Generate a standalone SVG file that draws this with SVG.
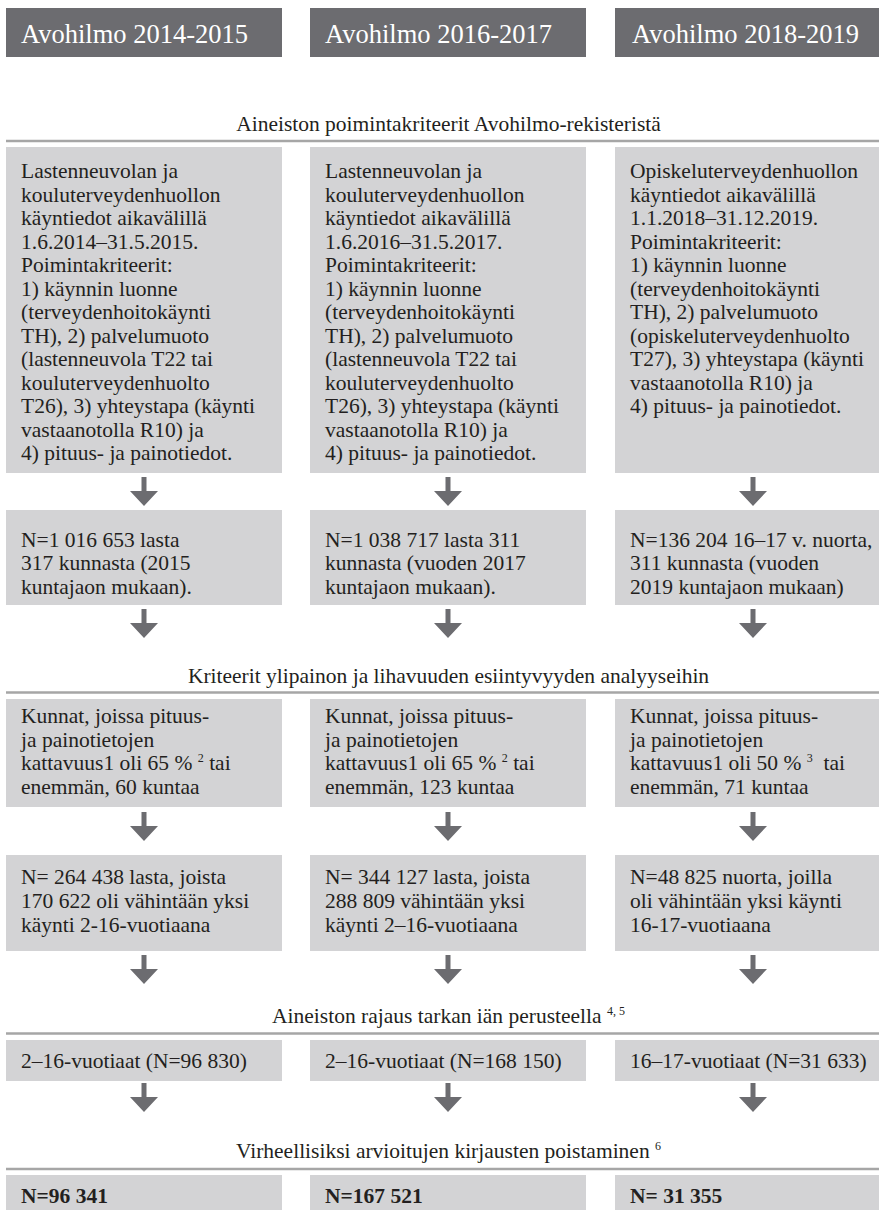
<svg xmlns="http://www.w3.org/2000/svg" xmlns:xlink="http://www.w3.org/1999/xlink" width="879" height="1210" viewBox="0 0 879 1210">
<defs>
<style>
.hdr{fill:#6c6c70}
.box{fill:#d3d3d5}
.hdrt{font-family:"Liberation Serif",serif;font-size:26.5px;fill:#ffffff}
.t{font-family:"Liberation Serif",serif;font-size:21.5px;fill:#231f20}
.ttl{font-family:"Liberation Serif",serif;font-size:21.5px;fill:#231f20;text-anchor:middle}
.b{font-weight:bold}
.sup{font-size:12px}
.rule{stroke:#a6a6a6;stroke-width:2.5;fill:none}
.arr{fill:#6c6c70}
</style>
<path id="arr" d="M-2.5,0 H2.5 V14 H14 L0,29 L-14,14 H-2.5 Z"/>
</defs>
<rect width="879" height="1210" fill="#ffffff"/>

<!-- headers -->
<g id="hdr1"><rect class="hdr" x="6" y="8" width="276" height="49"/><text class="hdrt" x="21" y="43">Avohilmo 2014-2015</text></g>
<g id="hdr2"><rect class="hdr" x="310" y="8" width="276" height="49"/><text class="hdrt" x="325" y="43">Avohilmo 2016-2017</text></g>
<g id="hdr3"><rect class="hdr" x="615" y="8" width="276" height="49"/><text class="hdrt" x="632" y="43">Avohilmo 2018-2019</text></g>

<!-- section titles and rules -->
<g id="sec1"><text class="ttl" x="448.5" y="131">Aineiston poimintakriteerit Avohilmo-rekisteristä</text><line class="rule" x1="6" y1="141" x2="879" y2="141"/></g>
<g id="sec2"><text class="ttl" x="448.5" y="683">Kriteerit ylipainon ja lihavuuden esiintyvyyden analyyseihin</text><line class="rule" x1="6" y1="692.5" x2="879" y2="692.5"/></g>
<g id="sec3"><text class="ttl" x="448.5" y="1023">Aineiston rajaus tarkan iän perusteella <tspan class="sup" dy="-8">4, 5</tspan></text><line class="rule" x1="6" y1="1033.5" x2="879" y2="1033.5"/></g>
<g id="sec4"><text class="ttl" x="448.5" y="1158">Virheellisiksi arvioitujen kirjausten poistaminen <tspan class="sup" dy="-8">6</tspan></text><line class="rule" x1="6" y1="1169" x2="879" y2="1169"/></g>

<!-- row 1 -->
<g id="r1c1"><rect class="box" x="6" y="147" width="276" height="326"/>
<text class="t" x="21" y="178">
<tspan x="21" y="178">Lastenneuvolan ja</tspan>
<tspan x="21" y="201.5">kouluterveydenhuollon</tspan>
<tspan x="21" y="225">käyntiedot aikavälillä</tspan>
<tspan x="21" y="248.5">1.6.2014–31.5.2015.</tspan>
<tspan x="21" y="272">Poimintakriteerit:</tspan>
<tspan x="21" y="295.5">1) käynnin luonne</tspan>
<tspan x="21" y="319">(terveydenhoitokäynti</tspan>
<tspan x="21" y="342.5">TH), 2) palvelumuoto</tspan>
<tspan x="21" y="366">(lastenneuvola T22 tai</tspan>
<tspan x="21" y="389.5">kouluterveydenhuolto</tspan>
<tspan x="21" y="413">T26), 3) yhteystapa (käynti</tspan>
<tspan x="21" y="436.5">vastaanotolla R10) ja</tspan>
<tspan x="21" y="460">4) pituus- ja painotiedot.</tspan>
</text></g>
<g id="r1c2"><rect class="box" x="310" y="147" width="276" height="326"/>
<text class="t" x="325" y="178">
<tspan x="325" y="178">Lastenneuvolan ja</tspan>
<tspan x="325" y="201.5">kouluterveydenhuollon</tspan>
<tspan x="325" y="225">käyntiedot aikavälillä</tspan>
<tspan x="325" y="248.5">1.6.2016–31.5.2017.</tspan>
<tspan x="325" y="272">Poimintakriteerit:</tspan>
<tspan x="325" y="295.5">1) käynnin luonne</tspan>
<tspan x="325" y="319">(terveydenhoitokäynti</tspan>
<tspan x="325" y="342.5">TH), 2) palvelumuoto</tspan>
<tspan x="325" y="366">(lastenneuvola T22 tai</tspan>
<tspan x="325" y="389.5">kouluterveydenhuolto</tspan>
<tspan x="325" y="413">T26), 3) yhteystapa (käynti</tspan>
<tspan x="325" y="436.5">vastaanotolla R10) ja</tspan>
<tspan x="325" y="460">4) pituus- ja painotiedot.</tspan>
</text></g>
<g id="r1c3"><rect class="box" x="615" y="147" width="276" height="326"/>
<text class="t" x="630" y="178">
<tspan x="630" y="178">Opiskeluterveydenhuollon</tspan>
<tspan x="630" y="201.5">käyntiedot aikavälillä</tspan>
<tspan x="630" y="225">1.1.2018–31.12.2019.</tspan>
<tspan x="630" y="248.5">Poimintakriteerit:</tspan>
<tspan x="630" y="272">1) käynnin luonne</tspan>
<tspan x="630" y="295.5">(terveydenhoitokäynti</tspan>
<tspan x="630" y="319">TH), 2) palvelumuoto</tspan>
<tspan x="630" y="342.5">(opiskeluterveydenhuolto</tspan>
<tspan x="630" y="366">T27), 3) yhteystapa (käynti</tspan>
<tspan x="630" y="389.5">vastaanotolla R10) ja</tspan>
<tspan x="630" y="413">4) pituus- ja painotiedot.</tspan>
</text></g>

<!-- row 2 -->
<g id="r2c1"><rect class="box" x="6" y="510" width="276" height="95"/>
<text class="t"><tspan x="21" y="546.5">N=1 016 653 lasta</tspan><tspan x="21" y="570">317 kunnasta (2015</tspan><tspan x="21" y="593.5">kuntajaon mukaan).</tspan></text></g>
<g id="r2c2"><rect class="box" x="310" y="510" width="276" height="95"/>
<text class="t"><tspan x="325" y="546.5">N=1 038 717 lasta 311</tspan><tspan x="325" y="570">kunnasta (vuoden 2017</tspan><tspan x="325" y="593.5">kuntajaon mukaan).</tspan></text></g>
<g id="r2c3"><rect class="box" x="615" y="510" width="276" height="95"/>
<text class="t"><tspan x="630" y="546.5">N=136 204 16–17 v. nuorta,</tspan><tspan x="630" y="570">311 kunnasta (vuoden</tspan><tspan x="630" y="593.5">2019 kuntajaon mukaan)</tspan></text></g>

<!-- row 3 -->
<g id="r3c1"><rect class="box" x="6" y="699" width="276" height="108"/>
<text class="t"><tspan x="21" y="723">Kunnat, joissa pituus-</tspan><tspan x="21" y="746.5">ja painotietojen</tspan><tspan x="21" y="770">kattavuus1 oli 65 % <tspan class="sup" dy="-8">2</tspan><tspan dy="8"> tai</tspan></tspan><tspan x="21" y="793.5">enemmän, 60 kuntaa</tspan></text></g>
<g id="r3c2"><rect class="box" x="310" y="699" width="276" height="108"/>
<text class="t"><tspan x="325" y="723">Kunnat, joissa pituus-</tspan><tspan x="325" y="746.5">ja painotietojen</tspan><tspan x="325" y="770">kattavuus1 oli 65 % <tspan class="sup" dy="-8">2</tspan><tspan dy="8">  tai</tspan></tspan><tspan x="325" y="793.5">enemmän, 123 kuntaa</tspan></text></g>
<g id="r3c3"><rect class="box" x="615" y="699" width="276" height="108"/>
<text class="t" xml:space="preserve"><tspan x="630" y="723">Kunnat, joissa pituus-</tspan><tspan x="630" y="746.5">ja painotietojen</tspan><tspan x="630" y="770">kattavuus1 oli 50 % <tspan class="sup" dy="-8">3</tspan><tspan dy="8">  tai</tspan></tspan><tspan x="630" y="793.5">enemmän, 71 kuntaa</tspan></text></g>

<!-- row 4 -->
<g id="r4c1"><rect class="box" x="6" y="855" width="276" height="96"/>
<text class="t"><tspan x="21" y="884">N= 264 438 lasta, joista</tspan><tspan x="21" y="908">170 622 oli vähintään yksi</tspan><tspan x="21" y="932">käynti 2-16-vuotiaana</tspan></text></g>
<g id="r4c2"><rect class="box" x="310" y="855" width="276" height="96"/>
<text class="t"><tspan x="325" y="884">N= 344 127 lasta, joista</tspan><tspan x="325" y="908">288 809 vähintään yksi</tspan><tspan x="325" y="932">käynti 2–16-vuotiaana</tspan></text></g>
<g id="r4c3"><rect class="box" x="615" y="855" width="276" height="96"/>
<text class="t"><tspan x="630" y="884">N=48 825 nuorta, joilla</tspan><tspan x="630" y="908">oli vähintään yksi käynti</tspan><tspan x="630" y="932">16-17-vuotiaana</tspan></text></g>

<!-- row 5 -->
<g id="r5c1"><rect class="box" x="6" y="1040" width="276" height="41"/><text class="t" x="21" y="1068">2–16-vuotiaat (N=96 830)</text></g>
<g id="r5c2"><rect class="box" x="310" y="1040" width="276" height="41"/><text class="t" x="325" y="1068">2–16-vuotiaat (N=168 150)</text></g>
<g id="r5c3"><rect class="box" x="615" y="1040" width="276" height="41"/><text class="t" x="630" y="1068">16–17-vuotiaat (N=31 633)</text></g>

<!-- row 6 -->
<g id="r6c1"><rect class="box" x="6" y="1175" width="276" height="40"/><text class="t b" x="21" y="1203">N=96 341</text></g>
<g id="r6c2"><rect class="box" x="310" y="1175" width="276" height="40"/><text class="t b" x="325" y="1203">N=167 521</text></g>
<g id="r6c3"><rect class="box" x="615" y="1175" width="276" height="40"/><text class="t b" x="630" y="1203">N= 31 355</text></g>

<!-- connectors -->
<g id="connectors" class="arr">
<use xlink:href="#arr" x="144" y="477"/><use xlink:href="#arr" x="448" y="477"/><use xlink:href="#arr" x="753" y="477"/>
<use xlink:href="#arr" x="144" y="609"/><use xlink:href="#arr" x="448" y="609"/><use xlink:href="#arr" x="753" y="609"/>
<use xlink:href="#arr" x="144" y="812"/><use xlink:href="#arr" x="448" y="812"/><use xlink:href="#arr" x="753" y="812"/>
<use xlink:href="#arr" x="144" y="955"/><use xlink:href="#arr" x="448" y="955"/><use xlink:href="#arr" x="753" y="955"/>
<use xlink:href="#arr" x="144" y="1083"/><use xlink:href="#arr" x="448" y="1083"/><use xlink:href="#arr" x="753" y="1083"/>
</g>
</svg>
